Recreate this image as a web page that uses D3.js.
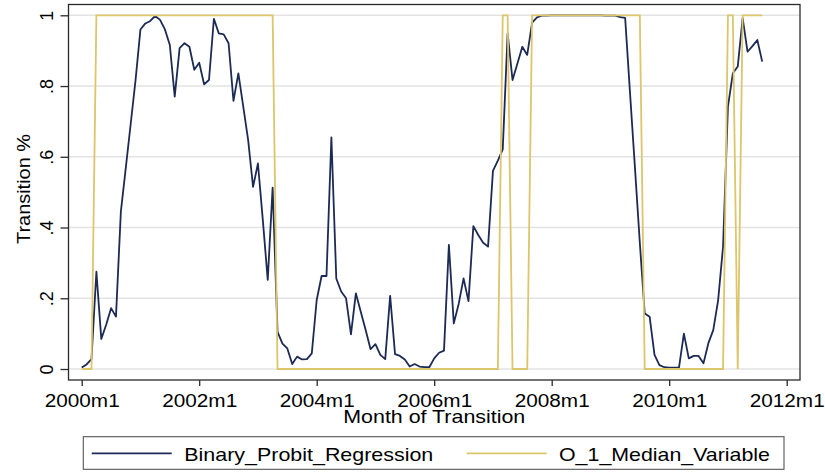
<!DOCTYPE html>
<meta charset="utf-8" />
<script src="https://d3js.org/d3.v7.min.js"></script>
<body style="margin: 0; background-color: #ffffff">
  <div id="chart"></div>
  <script>
    // month index 0 = 2000m1
    var startYear = 2000;
    var tickMonths = [0, 24, 48, 72, 96, 120, 144];
    var yTicks = [0, 0.2, 0.4, 0.6, 0.8, 1];
    var seriesNames = ["Binary_Probit_Regression", "O_1_Median_Variable"];

    // Binary_Probit_Regression, one row per year
    var probit = [
      0.004, 0.013, 0.028, 0.275, 0.085, 0.125, 0.172, 0.148, 0.445, 0.568, 0.692, 0.817,
      0.96, 0.977, 0.984, 0.998, 0.987, 0.96, 0.916, 0.77, 0.907, 0.921, 0.911, 0.846,
      0.866, 0.805, 0.817, 0.99, 0.949, 0.946, 0.921, 0.758, 0.836, 0.742, 0.647, 0.515,
      0.581, 0.42, 0.252, 0.513, 0.105, 0.072, 0.058, 0.014, 0.035, 0.027, 0.028, 0.044,
      0.195, 0.263, 0.263, 0.655, 0.256, 0.219, 0.2, 0.098, 0.214, 0.162, 0.11, 0.056,
      0.07, 0.04, 0.028, 0.207, 0.042, 0.037, 0.027, 0.007, 0.014, 0.007, 0.005, 0.005,
      0.03, 0.046, 0.052, 0.351, 0.129, 0.184, 0.256, 0.192, 0.404, 0.379, 0.357, 0.346,
      0.56, 0.589, 0.621, 0.949, 0.817, 0.864, 0.911, 0.888, 0.979, 0.994, 0.999, 0.999,
      1, 1, 1, 1, 1, 1, 1, 1, 1, 1, 1, 0.999,
      0.999, 0.999, 0.995, 0.993, 0.78, 0.57, 0.357, 0.157, 0.148, 0.04, 0.011, 0.005,
      0.004, 0.004, 0.004, 0.1, 0.03, 0.037, 0.037, 0.016, 0.073, 0.11, 0.195, 0.346,
      0.742, 0.836, 0.855, 0.992, 0.897, 0.913, 0.93, 0.869
    ];

    // O_1_Median_Variable, one row per year
    var median = [
      0, 0, 0, 1, 1, 1, 1, 1, 1, 1, 1, 1,
      1, 1, 1, 1, 1, 1, 1, 1, 1, 1, 1, 1,
      1, 1, 1, 1, 1, 1, 1, 1, 1, 1, 1, 1,
      1, 1, 1, 1, 0, 0, 0, 0, 0, 0, 0, 0,
      0, 0, 0, 0, 0, 0, 0, 0, 0, 0, 0, 0,
      0, 0, 0, 0, 0, 0, 0, 0, 0, 0, 0, 0,
      0, 0, 0, 0, 0, 0, 0, 0, 0, 0, 0, 0,
      0, 0, 1, 1, 0, 0, 0, 0, 1, 1, 1, 1,
      1, 1, 1, 1, 1, 1, 1, 1, 1, 1, 1, 1,
      1, 1, 1, 1, 1, 1, 1, 0, 0, 0, 0, 0,
      0, 0, 0, 0, 0, 0, 0, 0, 0, 0, 0, 0,
      1, 1, 0, 1, 1, 1, 1, 1
    ];

    var W = 825, H = 472;
    var plot = { left: 68.5, right: 800, top: 4.5, bottom: 380 };
    var navy = "#1c2a55", gold = "#dcc56b";
    var font = "'Liberation Sans', Arial, Helvetica, sans-serif";

    var svg = d3
      .select("#chart")
      .append("svg")
      .attr("width", W)
      .attr("height", H)
      .style("font-family", font);

    var x = d3.scaleLinear().domain([0, 144]).range([81.7, 786.7]);
    var y = d3.scaleLinear().domain([0, 1]).range([369, 15.3]);

    // grid
    svg
      .append("g")
      .selectAll("line")
      .data(yTicks)
      .enter()
      .append("line")
      .attr("x1", plot.left)
      .attr("x2", plot.right)
      .attr("y1", function (d) { return y(d); })
      .attr("y2", function (d) { return y(d); })
      .attr("stroke", "#e3e3e3")
      .attr("stroke-width", 1.6);

    // lines
    var line = d3
      .line()
      .x(function (d, i) { return x(i); })
      .y(function (d) { return y(d); });

    svg
      .append("path")
      .datum(probit)
      .attr("d", line)
      .attr("fill", "none")
      .attr("stroke", navy)
      .attr("stroke-width", 1.8)
      .attr("stroke-linejoin", "round");

    svg
      .append("path")
      .datum(median)
      .attr("d", line)
      .attr("fill", "none")
      .attr("stroke", gold)
      .attr("stroke-width", 1.8)
      .attr("stroke-linejoin", "miter");

    // frame
    svg
      .append("rect")
      .attr("x", plot.left)
      .attr("y", plot.top)
      .attr("width", plot.right - plot.left)
      .attr("height", plot.bottom - plot.top)
      .attr("fill", "none")
      .attr("stroke", "#2a2a2a")
      .attr("stroke-width", 1.3);

    // x axis
    var xAxis = svg
      .append("g")
      .attr("transform", "translate(0," + plot.bottom + ")")
      .call(
        d3
          .axisBottom(x)
          .tickValues(tickMonths)
          .tickSize(6)
          .tickPadding(9)
          .tickFormat(function (m) { return startYear + m / 12 + "m1"; })
      );
    xAxis.select(".domain").remove();
    xAxis.selectAll(".tick line").attr("stroke", "#2a2a2a").attr("stroke-width", 1.3);
    xAxis
      .selectAll(".tick text")
      .attr("fill", "#000")
      .attr("y", 27.3)
      .attr("dy", null)
      .style("font-size", "17.5px")
      .attr("textLength", 75)
      .attr("lengthAdjust", "spacingAndGlyphs");

    // y axis
    var yAxis = svg
      .append("g")
      .attr("transform", "translate(" + plot.left + ",0)")
      .call(
        d3
          .axisLeft(y)
          .tickValues(yTicks)
          .tickSize(8)
          .tickFormat(function (d) {
            if (d === 0) return "0";
            if (d === 1) return "1";
            return "." + Math.round(d * 10);
          })
      );
    yAxis.select(".domain").remove();
    yAxis.selectAll(".tick line").attr("stroke", "#2a2a2a").attr("stroke-width", 1.3);
    yAxis
      .selectAll(".tick text")
      .attr("fill", "#000")
      .attr("x", null)
      .attr("dy", null)
      .attr("text-anchor", "middle")
      .attr("transform", "translate(-16,0) rotate(-90)")
      .style("font-size", "18px");

    // axis titles
    svg
      .append("text")
      .attr("x", (plot.left + plot.right) / 2)
      .attr("y", 422.5)
      .attr("text-anchor", "middle")
      .attr("textLength", 182)
      .attr("lengthAdjust", "spacingAndGlyphs")
      .style("font-size", "18.5px")
      .text("Month of Transition");

    svg
      .append("text")
      .attr("transform", "translate(30,189) rotate(-90)")
      .attr("text-anchor", "middle")
      .attr("textLength", 110)
      .attr("lengthAdjust", "spacingAndGlyphs")
      .style("font-size", "19px")
      .text("Transition %");

    // legend
    var legend = svg.append("g");
    legend
      .append("rect")
      .attr("x", 83.3)
      .attr("y", 436.7)
      .attr("width", 700.7)
      .attr("height", 32.6)
      .attr("fill", "#fff")
      .attr("stroke", "#555")
      .attr("stroke-width", 1.1);

    var legendItems = [
      { name: seriesNames[0], color: navy, x0: 91.7, tx: 184.3, tl: 249 },
      { name: seriesNames[1], color: gold, x0: 466.7, tx: 559, tl: 211 }
    ];
    legendItems.forEach(function (d) {
      legend
        .append("line")
        .attr("x1", d.x0)
        .attr("x2", d.x0 + 80)
        .attr("y1", 453.3)
        .attr("y2", 453.3)
        .attr("stroke", d.color)
        .attr("stroke-width", 1.8);
      legend
        .append("text")
        .attr("x", d.tx)
        .attr("y", 460.7)
        .attr("textLength", d.tl)
        .attr("lengthAdjust", "spacingAndGlyphs")
        .style("font-size", "18.5px")
        .text(d.name);
    });
  </script>
</body>
